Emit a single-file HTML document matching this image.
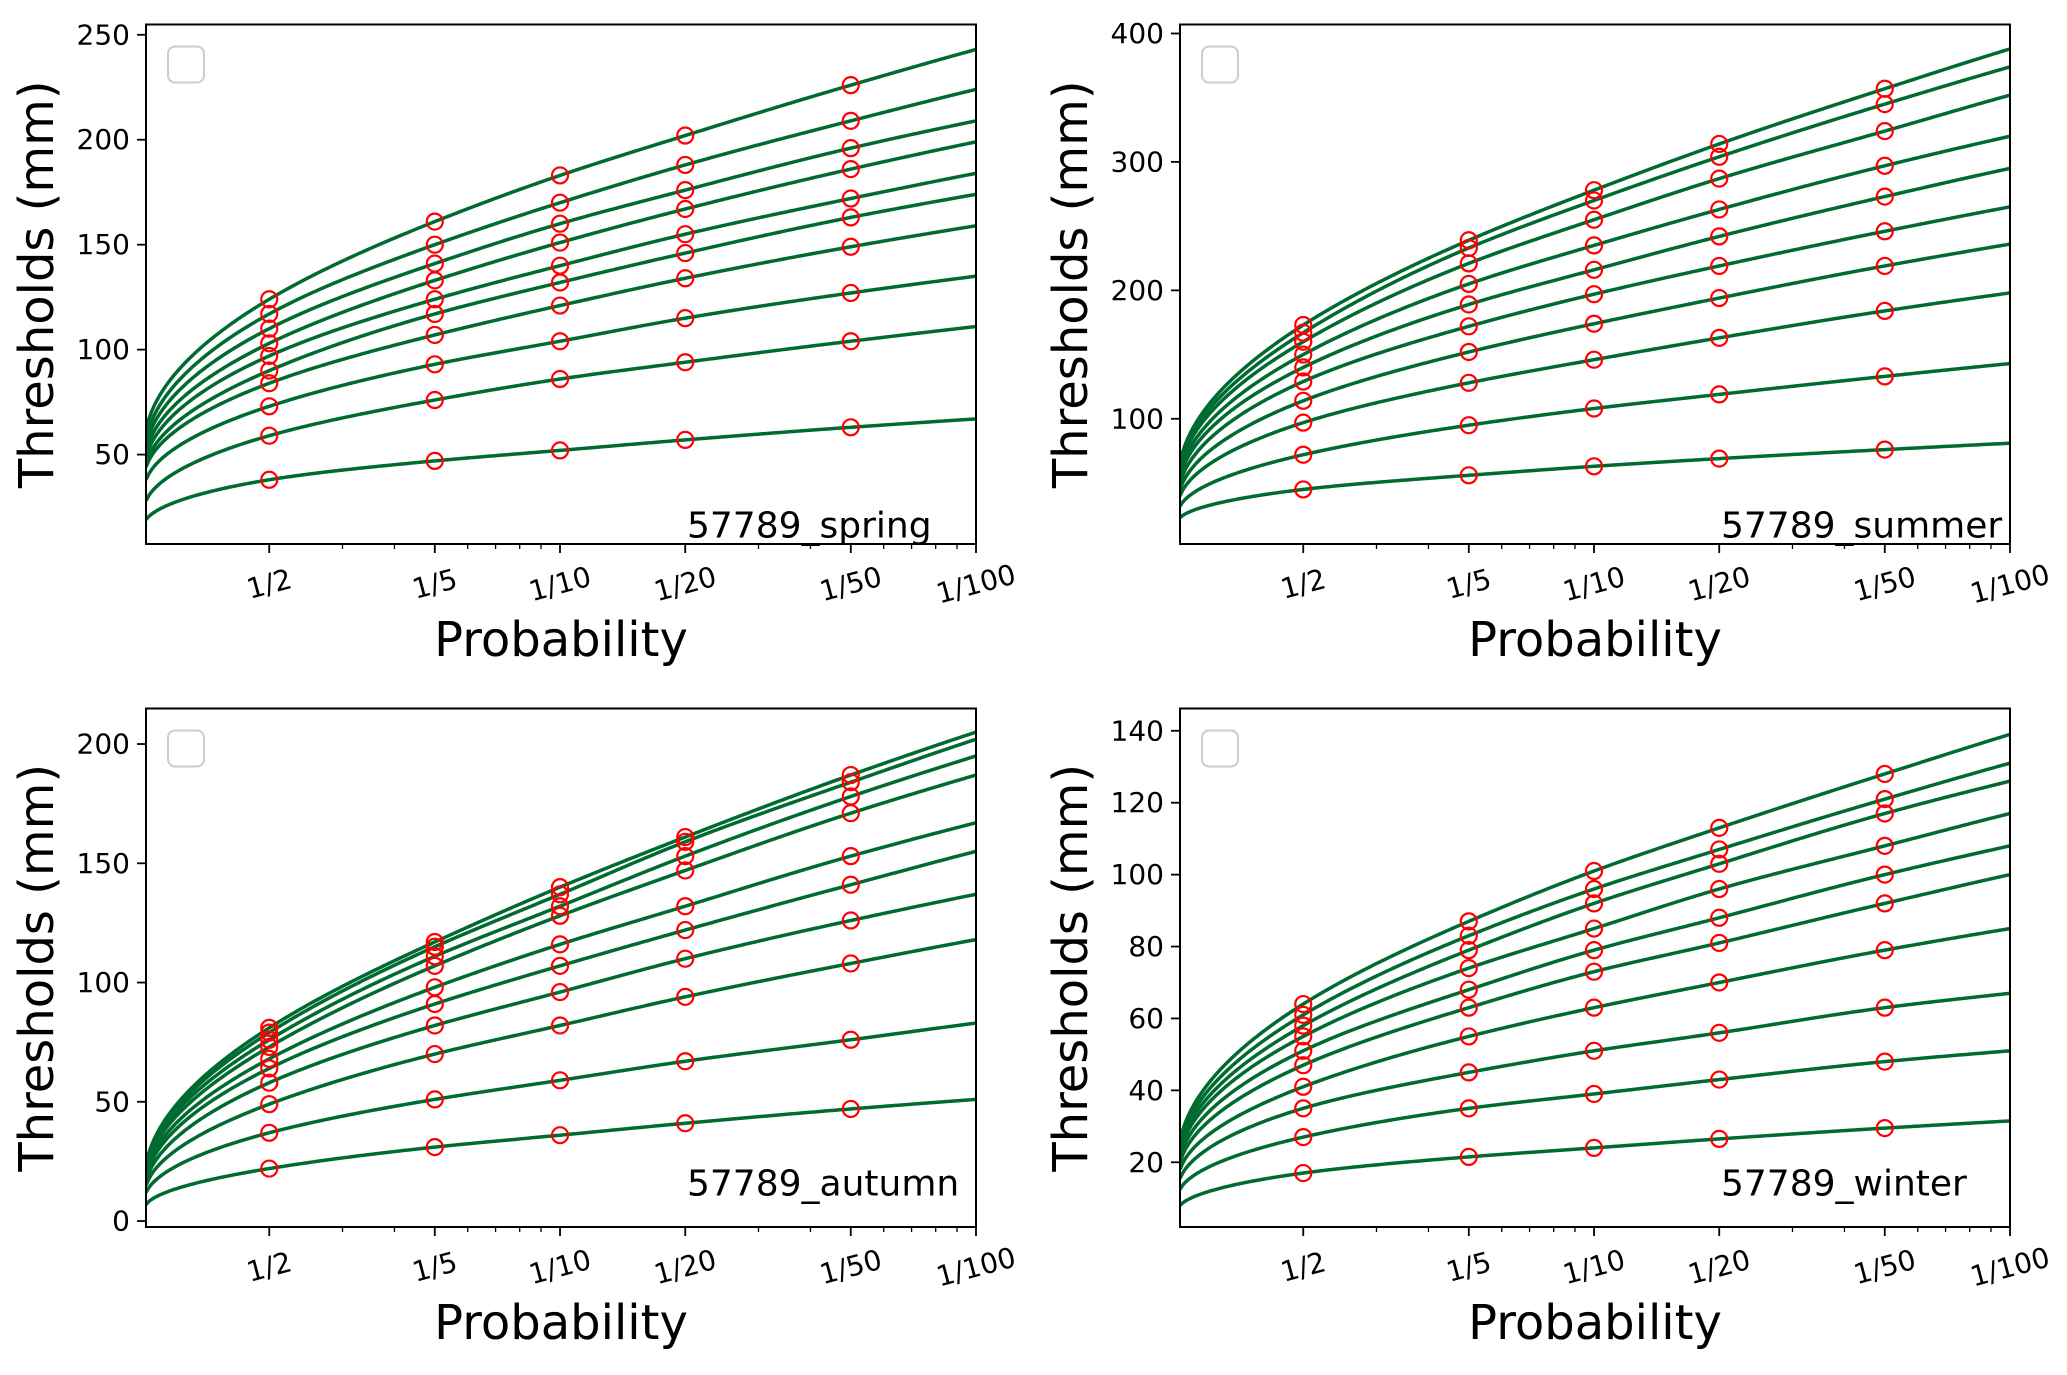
<!DOCTYPE html>
<html><head><meta charset="utf-8"><style>
html,body{margin:0;padding:0;background:#fff;}
svg{display:block;font-family:"DejaVu Sans","Liberation Sans",sans-serif;}
</style></head><body>
<svg id="fig" width="2067" height="1375" viewBox="0 0 2067 1375"></svg>
<script>
// ---- data ----
const returnPeriods = [2, 5, 10, 20, 50];
const tickLabels = ["1/2", "1/5", "1/10", "1/20", "1/50", "1/100"];
const tickPeriods = [2, 5, 10, 20, 50, 100];

const springValues = [
  [124,161,183,202,226],[117,150,170,188,209],[110,141,160,176,196],[103,133,151,167,186],
  [97,124,140,155,172],[90,117,132,146,163],[84,107,121,134,149],[73,93,104,115,127],
  [59,76,86,94,104],[38,47,52,57,63]];
const springStart = [62,58,55,52,49,46,44,38,28,19];
const springEnd = [243,224,209,199,184,174,159,135,111,67];
const springTicks = [50,100,150,200,250];

const summerValues = [
  [173,239,278,314,357],[167,233,270,304,345],[160,221,255,287,324],[150,205,235,263,297],
  [140,189,216,242,273],[129,172,197,219,246],[114,152,174,194,219],[97,128,146,163,184],
  [72,95,108,119,133],[45,56,63,69,76]];
const summerStart = [66,64,62,58,55,50,45,40,32,23];
const summerEnd = [388,374,352,320,295,265,236,198,143,81];
const summerTicks = [100,200,300,400];

const autumnValues = [
  [81,117,140,161,187],[79,115,137,159,184],[76,111,132,153,178],[73,107,128,147,171],
  [68,98,116,132,153],[64,91,107,122,141],[58,82,96,110,126],[49,70,82,94,108],
  [37,51,59,67,76],[22,31,36,41,47]];
const autumnStart = [24,23.5,23,22,20.5,19,17,15,12,7];
const autumnEnd = [205,202,195,187,167,155,137,118,83,51];
const autumnTicks = [0,50,100,150,200];

const winterValues = [
  [64,87,101,113,128],[61,83,96,107,121],[58,79,92,103,117],[55,74,85,96,108],
  [51,68,79,88,100],[47,63,73,81,92],[41,55,63,70,79],[35,45,51,56,63],
  [27,35,39,43,48],[17,21.5,24,26.5,29.5]];
const winterStart = [26,25,24,23,21.5,20,18,15.5,12.5,8];
const winterEnd = [139,131,126,117,108,100,85,67,51,31.5];
const winterTicks = [20,40,60,80,100,120,140];

// ---- drawing ----
const NS = "http://www.w3.org/2000/svg";
const svg = document.getElementById("fig");
const TMIN = 1.011, TMAX = 100;
function mk(tag, attrs, parent){
  const e = document.createElementNS(NS, tag);
  for (const k in attrs) e.setAttribute(k, attrs[k]);
  (parent||svg).appendChild(e);
  return e;
}
function uOf(T){ return Math.sqrt(Math.log(T)); }
function interp(us, ys, u){
  const n = us.length;
  const d = [];
  for (let i=0;i<n-1;i++) d.push((ys[i+1]-ys[i])/(us[i+1]-us[i]));
  const m = [d[0]];
  for (let i=1;i<n-1;i++) m.push((d[i-1]+d[i])/2);
  m.push(d[n-2]);
  let i=0; while(i<n-2 && u>us[i+1]) i++;
  const h = us[i+1]-us[i], t=(u-us[i])/h;
  const t2=t*t, t3=t2*t;
  return (2*t3-3*t2+1)*ys[i]+(t3-2*t2+t)*h*m[i]+(-2*t3+3*t2)*ys[i+1]+(t3-t2)*h*m[i+1];
}

function panel(name, L, T, W, H, ymin, ymax, values, starts, ends, yticks, label){
  const g = mk("g", {});
  
  
  const xs = t => L + (Math.log10(t) - Math.log10(TMIN)) / (Math.log10(TMAX) - Math.log10(TMIN)) * W;
  const ys = v => T + H - (v - ymin) / (ymax - ymin) * H;
  const cid = "clip-" + name;
  const cp = mk("clipPath", {id: cid}, g);
  mk("rect", {x:L, y:T, width:W, height:H}, cp);
  const plot = mk("g", {"clip-path": "url(#"+cid+")"}, g);
  const Ts = [TMIN].concat(returnPeriods, [TMAX]);
  const us = Ts.map(uOf);
  values.forEach((vals, si) => {
    const pts = [starts[si]].concat(vals, [ends[si]]);
    let d = "";
    const N = 300;
    for (let k=0;k<=N;k++){
      const lt = Math.log10(TMIN) + k/N*(Math.log10(TMAX)-Math.log10(TMIN));
      const t = Math.pow(10, lt);
      const y = interp(us, pts, uOf(t));
      d += (k?"L":"M") + xs(t).toFixed(2) + "," + ys(y).toFixed(2);
    }
    const p = mk("path", {d:d, fill:"none", stroke:"#006b30", "stroke-width":3.5}, plot);
    
    
  });
  values.forEach((vals, si) => {
    vals.forEach((v, j) => {
      const c = mk("circle", {cx:xs(returnPeriods[j]), cy:ys(v), r:8, fill:"none", stroke:"#ff0000", "stroke-width":2.2}, plot);
      
      
    });
  });
  const fr = mk("rect", {x:L, y:T, width:W, height:H, fill:"none", stroke:"#000", "stroke-width":2}, g);
  
  
  yticks.forEach(v => {
    const y = ys(v);
    mk("line", {x1:L-9, x2:L, y1:y, y2:y, stroke:"#000", "stroke-width":1.8}, g);
    const t = mk("text", {x:L-16, y:y, "text-anchor":"end", "dominant-baseline":"central", "font-size":28, fill:"#000"}, g);
    t.textContent = v;
    
    
  });
  [3,4,6,7,8,9,30,40,60,70,80,90].forEach(m => {
    const x = xs(m);
    mk("line", {x1:x, x2:x, y1:T+H, y2:T+H+5, stroke:"#000", "stroke-width":1.3}, g);
  });
  tickPeriods.forEach((p, i) => {
    const x = xs(p);
    mk("line", {x1:x, x2:x, y1:T+H, y2:T+H+9, stroke:"#000", "stroke-width":1.8}, g);
    const cy = T+H+40;
    const t = mk("text", {x:x, y:cy, "text-anchor":"middle", "dominant-baseline":"central", "font-size":28, fill:"#000", transform:"rotate(-15 "+x+" "+cy+")"}, g);
    t.textContent = tickLabels[i];
    
    
  });
  const lg = mk("rect", {x:L+22, y:T+22, width:36, height:36, rx:7, fill:"#fff", stroke:"#cccccc", "stroke-width":2}, g);
  
  
  const an = mk("text", {x:L+541, y: (T < 100 ? T+513 : T+487), "font-size":36, fill:"#000"}, g);
  an.textContent = label;
  
  
  const yl = mk("text", {x:0, y:0, "text-anchor":"middle", "font-size":48, fill:"#000", transform:"translate("+(L-93)+","+(T+H/2)+") rotate(-90)"}, g);
  yl.textContent = "Thresholds (mm)";
  
  
  const xl = mk("text", {x:L+W/2, y:T+H+112, "text-anchor":"middle", "font-size":48, fill:"#000"}, g);
  xl.textContent = "Probability";
  
  
}

panel("spring", 146, 24.5, 830, 519.5, 7.4, 254.9, springValues, springStart, springEnd, springTicks, "57789_spring");
panel("summer", 1180, 24.5, 830, 519.5, 2.5, 407, summerValues, summerStart, summerEnd, summerTicks, "57789_summer");
panel("autumn", 146, 708.5, 830, 518.5, -2.5, 214.9, autumnValues, autumnStart, autumnEnd, autumnTicks, "57789_autumn");
panel("winter", 1180, 708.5, 830, 518.5, 2.0, 146.2, winterValues, winterStart, winterEnd, winterTicks, "57789_winter");
</script>
</body></html>
